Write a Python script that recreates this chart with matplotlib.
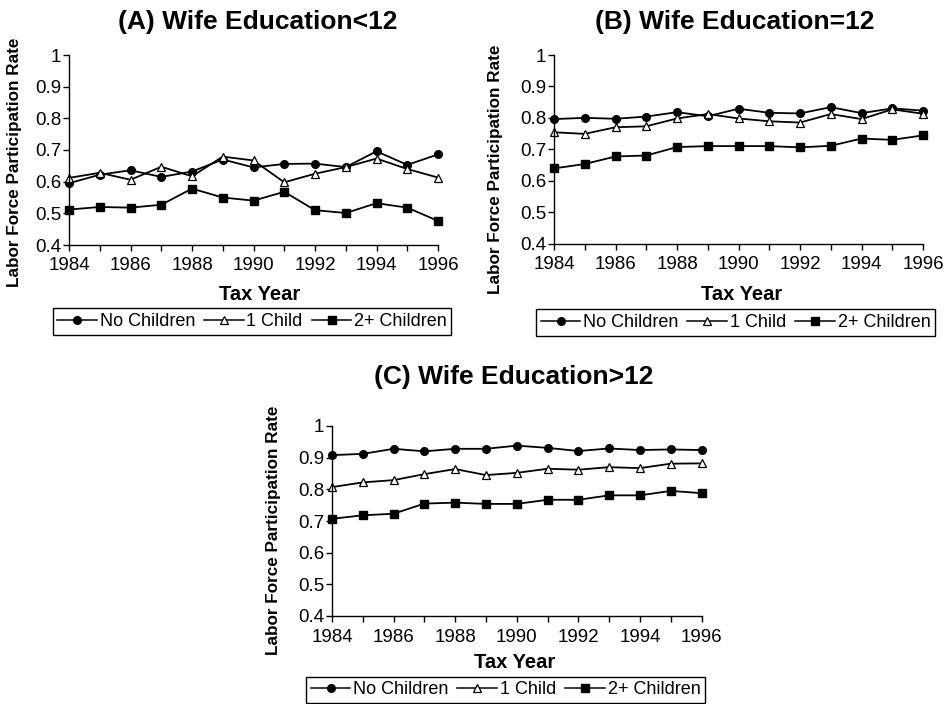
import matplotlib
matplotlib.use("Agg")
import matplotlib.pyplot as plt
from matplotlib.lines import Line2D

plt.rcParams['font.family'] = ['Liberation Sans', 'DejaVu Sans']

years = list(range(1984, 1997))
series_names = ["No Children", "1 Child", "2+ Children"]

# Panel A: Wife Education<12
a_none = [0.595, 0.622, 0.636, 0.615, 0.632, 0.670, 0.645, 0.656, 0.657, 0.646, 0.696, 0.653, 0.686]
a_one = [0.612, 0.628, 0.606, 0.647, 0.617, 0.679, 0.667, 0.598, 0.625, 0.646, 0.673, 0.640, 0.613]
a_two = [0.512, 0.520, 0.518, 0.527, 0.578, 0.550, 0.540, 0.568, 0.510, 0.501, 0.532, 0.518, 0.476]

# Panel B: Wife Education=12
b_none = [0.796, 0.800, 0.797, 0.804, 0.818, 0.805, 0.829, 0.816, 0.814, 0.834, 0.815, 0.830, 0.823]
b_one = [0.754, 0.749, 0.770, 0.773, 0.798, 0.812, 0.798, 0.789, 0.785, 0.812, 0.796, 0.827, 0.813]
b_two = [0.639, 0.653, 0.677, 0.680, 0.707, 0.710, 0.710, 0.710, 0.706, 0.711, 0.734, 0.730, 0.744]

# Panel C: Wife Education>12
c_none = [0.908, 0.912, 0.928, 0.920, 0.928, 0.928, 0.938, 0.931, 0.921, 0.929, 0.924, 0.926, 0.924]
c_one = [0.807, 0.822, 0.829, 0.848, 0.864, 0.845, 0.852, 0.865, 0.862, 0.870, 0.867, 0.881, 0.882]
c_two = [0.707, 0.718, 0.723, 0.755, 0.758, 0.754, 0.754, 0.767, 0.767, 0.781, 0.781, 0.795, 0.788]

titles = ["(A) Wife Education<12", "(B) Wife Education=12", "(C) Wife Education>12"]
yticks = [0.4, 0.5, 0.6, 0.7, 0.8, 0.9, 1.0]
yticklabels = ["0.4", "0.5", "0.6", "0.7", "0.8", "0.9", "1"]
xticklabels_years = [1984, 1986, 1988, 1990, 1992, 1994, 1996]

W, H = 947, 704
fig = plt.figure(figsize=(W / 100, H / 100), dpi=100)

def px_axes(x0, y0, x1, y1):
    return fig.add_axes([x0 / W, 1 - y1 / H, (x1 - x0) / W, (y1 - y0) / H])

panels = [
    dict(box=(69, 55, 438, 245), data=(a_none, a_one, a_two), title_xy=(258, 22),
         ylab_xy=(15, 162), xlab_xy=(260, 295), leg_xy=(252, 321.5)),
    dict(box=(554, 55, 923, 243.5), data=(b_none, b_one, b_two), title_xy=(735, 22),
         ylab_xy=(495, 169), xlab_xy=(742, 295), leg_xy=(735.5, 322.5)),
    dict(box=(332, 426, 701.5, 616), data=(c_none, c_one, c_two), title_xy=(514, 377),
         ylab_xy=(273, 530), xlab_xy=(515, 663), leg_xy=(505.5, 690)),
]

styles = [
    dict(marker='o', markersize=5.5, markerfacecolor='black', markeredgecolor='black'),
    dict(marker='^', markersize=6, markerfacecolor='white', markeredgecolor='black', markeredgewidth=0.9),
    dict(marker='s', markersize=6, markerfacecolor='black', markeredgecolor='black'),
]

for i, p in enumerate(panels):
    ax = px_axes(*p['box'])
    for vals, st in zip(p['data'], styles):
        ax.plot(years, vals, color='black', linewidth=1.3, clip_on=False, **st)
    ax.set_xlim(1984, 1996)
    ax.set_ylim(0.4, 1.0)
    ax.set_xticks(years, minor=True)
    ax.set_xticks(xticklabels_years)
    ax.set_xticklabels([str(y) for y in xticklabels_years], fontsize=13.5)
    ax.set_yticks(yticks)
    ax.set_yticklabels(yticklabels, fontsize=13.5)
    ax.tick_params(axis='both', which='both', direction='out', length=4, width=1, color='black')
    ax.tick_params(axis='x', which='major', pad=5)
    ax.tick_params(axis='y', which='major', pad=1.5)
    for s in ['top', 'right']:
        ax.spines[s].set_visible(False)
    for s in ['left', 'bottom']:
        ax.spines[s].set_linewidth(1.0)
    fig.text(p['title_xy'][0] / W, 1 - p['title_xy'][1] / H, titles[i], ha='center', va='center',
             fontsize=19, fontweight='bold')
    fig.text(p['ylab_xy'][0] / W, 1 - p['ylab_xy'][1] / H, "Labor Force Participation Rate",
             rotation=90, ha='center', va='center', fontsize=12.3, fontweight='bold')
    fig.text(p['xlab_xy'][0] / W, 1 - p['xlab_xy'][1] / H, "Tax Year", ha='center', va='center',
             fontsize=14.5, fontweight='bold')
    handles = [Line2D([], [], color='black', linewidth=1.1, **st) for st in styles]
    leg = ax.legend(handles, series_names, loc='center',
                    bbox_to_anchor=(p['leg_xy'][0] / W, 1 - p['leg_xy'][1] / H),
                    bbox_transform=fig.transFigure, ncol=3, frameon=True,
                    prop=dict(size=13),
                    fancybox=False, edgecolor='black', framealpha=1, borderpad=0.25,
                    handlelength=2.2, handletextpad=0.15, columnspacing=0.5,
                    borderaxespad=0)
    leg.get_frame().set_linewidth(1.0)

fig.savefig("out.png", dpi=100)
